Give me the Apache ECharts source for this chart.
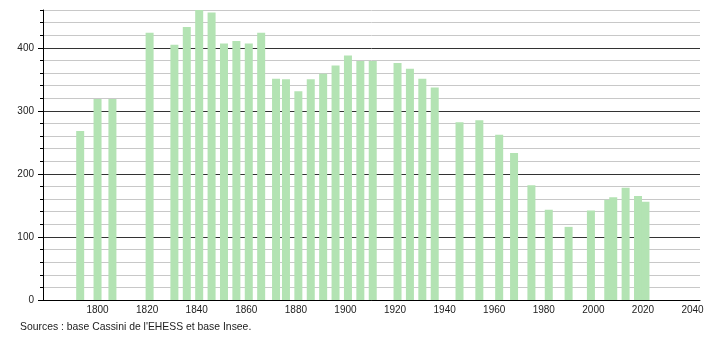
<!DOCTYPE html>
<html><head><meta charset="utf-8">
<script src="https://cdn.jsdelivr.net/npm/echarts@6/dist/echarts.min.js"></script>
<style>html,body{margin:0;padding:0;background:#fff}#c{width:710px;height:340px}</style>
</head><body><div id="c"></div>
<script>
const years = [1793,1800,1806,1821,1831,1836,1841,1846,1851,1856,1861,1866,1872,1876,1881,1886,1891,1896,1901,1906,1911,1921,1926,1931,1936,1946,1954,1962,1968,1975,1982,1990,1999,2006,2008,2013,2018,2021];
const population = [268,319,319,424,405,433,460,456,407,411,407,424,351,350,331,350,359,372,388,379,379,376,367,351,337,282,285,262,233,182,143,116,142,159,163,178,165,156];
const xTickLabels = [1800,1820,1840,1860,1880,1900,1920,1940,1960,1980,2000,2020,2040];
const yTickLabels = [0,100,200,300,400];
const sourceText = "Sources : base Cassini de l'EHESS et base Insee.";

const FONT = "'Liberation Sans',Arial,sans-serif";
const chart = echarts.init(document.getElementById('c'), null, {renderer:'canvas'});
chart.setOption({
  animation:false,
  backgroundColor:'#fff',
  grid:{left:43,right:10,top:10,bottom:40,containLabel:false},
  xAxis:{type:'value',min:1778,max:2043,
    axisLine:{show:true,lineStyle:{color:'#000',width:1}},
    axisTick:{show:false},
    splitLine:{show:false},
    axisLabel:{customValues:xTickLabels,formatter:v=>String(v),color:'#222',fontFamily:FONT,fontSize:10,margin:5}
  },
  yAxis:[
    {type:'value',min:0,max:460,interval:20,position:'left',
      axisLine:{show:true,lineStyle:{color:'#000'}},
      axisTick:{show:true,length:3,lineStyle:{color:'#000'}},
      axisLabel:{show:false},
      splitLine:{show:true,lineStyle:{color:['#333','#c8c8c8','#c8c8c8','#c8c8c8','#c8c8c8'],width:1}}
    },
    {type:'value',min:0,max:460,position:'left',
      axisLine:{show:false},
      axisTick:{show:true,length:5,customValues:yTickLabels,lineStyle:{color:'#000'}},
      axisLabel:{customValues:yTickLabels,formatter:v=>String(v),color:'#222',fontFamily:FONT,fontSize:10,margin:9},
      splitLine:{show:false}
    }
  ],
  graphic:[{type:'text',left:20,top:322,style:{text:sourceText,fill:'#222',font:"10.4px "+FONT}}],
  series:[{type:'bar',yAxisIndex:0,barWidth:8,
    itemStyle:{color:'#b3e3b3'},
    data:years.map((y,i)=>[y,population[i]])}]
});
</script></body></html>
